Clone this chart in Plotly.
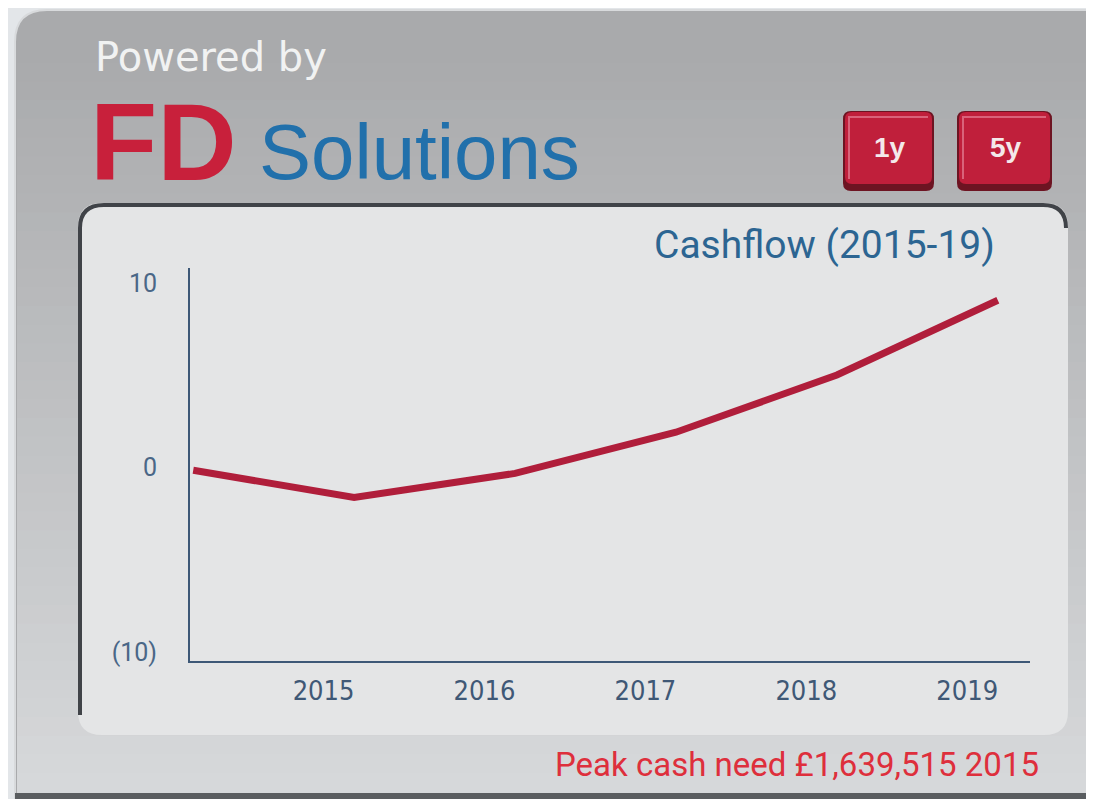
import plotly.graph_objects as go

# ---------------- data ----------------
periods = ["Start", "2015", "2016", "2017", "2018", "2019"]
cashflow_m = [-0.16, -1.64, -0.33, 1.9, 5.0, 9.05]      # £ millions
year_labels = ["2015", "2016", "2017", "2018", "2019"]
y_tick_vals = [-10, 0, 10]
y_tick_text = ["(10)", "0", "10"]
chart_title = "Cashflow (2015-19)"
footer_text = "Peak cash need £1,639,515 2015"
buttons = ["1y", "5y"]

# ---------------- geometry helpers (screen pixel -> paper) ----------------
OFF = 8                       # page body margin offset of the figure
W, H = 1094 - OFF, 799 - OFF  # figure fills the rest of the window
L, R, T, B = 190, 1030, 268, 661   # plot area in screen pixels


def fx(x):
    return (x - L) / (R - L)


def fy(y):
    return (B - y) / (B - T)


def rrect(x0, y0, x1, y1, r):
    p = [
        f"M {fx(x0 + r)},{fy(y0)}",
        f"L {fx(x1 - r)},{fy(y0)}",
        f"Q {fx(x1)},{fy(y0)} {fx(x1)},{fy(y0 + r)}",
        f"L {fx(x1)},{fy(y1 - r)}",
        f"Q {fx(x1)},{fy(y1)} {fx(x1 - r)},{fy(y1)}",
        f"L {fx(x0 + r)},{fy(y1)}",
        f"Q {fx(x0)},{fy(y1)} {fx(x0)},{fy(y1 - r)}",
        f"L {fx(x0)},{fy(y0 + r)}",
        f"Q {fx(x0)},{fy(y0)} {fx(x0 + r)},{fy(y0)}",
        "Z",
    ]
    return " ".join(p)


shapes = []


def add_path(path, fill=None, line=None, width=0, layer="below"):
    shapes.append(dict(type="path", xref="paper", yref="paper", path=path,
                       fillcolor=fill if fill else "rgba(0,0,0,0)",
                       line=dict(color=line if line else "rgba(0,0,0,0)", width=width),
                       layer=layer))


def add_rect(x0, y0, x1, y1, fill, layer="below"):
    shapes.append(dict(type="rect", xref="paper", yref="paper",
                       x0=fx(x0), x1=fx(x1), y0=fy(y1), y1=fy(y0),
                       fillcolor=fill, line=dict(width=0), layer=layer))


# outer grey panel (rounded top-left)
add_path(rrect(15, 10, 1140, 840, 32), fill="#a9aaac", line="#d8dadc", width=2)
# vertical gradient bands
c0 = (169, 170, 172)
c1 = (214, 216, 218)
N = 40
y_start, y_end = 44, 792
for i in range(N):
    t = i / (N - 1)
    c = tuple(int(round(c0[k] + (c1[k] - c0[k]) * t)) for k in range(3))
    ya = y_start + (y_end - y_start) * i / N
    yb = y_start + (y_end - y_start) * (i + 1) / N + 1
    add_rect(17, ya, 1120, yb, f"rgb{c}")
# bottom dark edge
add_rect(15, 793, 1120, 830, "#5a5d60")

# inner chart panel
add_path(rrect(78, 203, 1068, 735, 24), fill="#e4e5e6")
# dark top/left bevel of inner panel
bevel = " ".join([
    f"M {fx(80)},{fy(715)}",
    f"L {fx(80)},{fy(228)}",
    f"Q {fx(80)},{fy(205)} {fx(104)},{fy(205)}",
    f"L {fx(1043)},{fy(205)}",
    f"Q {fx(1066)},{fy(205)} {fx(1066)},{fy(228)}",
])
add_path(bevel, line="#404348", width=4)

# buttons
btn_boxes = [(843, 111, 934, 191), (957, 111, 1052, 191)]
for (bx0, by0, bx1, by1) in btn_boxes:
    add_path(rrect(bx0, by0, bx1, by1, 8), fill="#6d1422", layer="above")
    add_path(rrect(bx0 + 2, by0 + 1, bx1 - 2, by1 - 7, 7), fill="#c01f3b", layer="above")
    hl = " ".join([
        f"M {fx(bx0 + 6)},{fy(by1 - 12)}",
        f"L {fx(bx0 + 6)},{fy(by0 + 6)}",
        f"L {fx(bx1 - 6)},{fy(by0 + 6)}",
    ])
    add_path(hl, line="#d9637a", width=2, layer="above")

# ---------------- figure ----------------
x_idx = list(range(len(periods)))

fig = go.Figure()
fig.add_trace(go.Scatter(
    x=x_idx, y=cashflow_m, mode="lines",
    line=dict(color="#b01e3b", width=7),
    hoverinfo="skip", showlegend=False,
))

annotations = [
    dict(text="Powered by", x=fx(93), y=fy(57), xanchor="left", yanchor="middle",
         font=dict(family="DejaVu Sans, sans-serif", size=40, color="#f1f2f2")),
    dict(text="<b>FD</b>", x=fx(88), y=fy(142), xanchor="left", yanchor="middle",
         font=dict(family="Liberation Sans, Arial, sans-serif", size=110, color="#c8203b")),
    dict(text="Solutions", x=fx(257), y=fy(152), xanchor="left", yanchor="middle",
         font=dict(family="Liberation Sans, Arial, sans-serif", size=78, color="#2170ab")),
    dict(text=chart_title, x=fx(997), y=fy(245), xanchor="right", yanchor="middle",
         font=dict(family="Roboto, sans-serif", size=39, color="#2c6592")),
    dict(text=footer_text, x=fx(1041), y=fy(764), xanchor="right", yanchor="middle",
         font=dict(family="Roboto, sans-serif", size=33, color="#de2f3c")),
]
btn_centers = [(890, 148), (1006, 148)]
for lbl, (cx, cy) in zip(buttons, btn_centers):
    annotations.append(dict(text=f"<b>{lbl}</b>", x=fx(cx), y=fy(cy), xanchor="center",
                            yanchor="middle",
                            font=dict(family="Liberation Sans, Arial, sans-serif", size=28,
                                      color="#f4e8ea")))
for a in annotations:
    a.update(xref="paper", yref="paper", showarrow=False)

x_tick_vals = [i + 1 - 0.19 for i in range(len(year_labels))]

fig.update_layout(
    width=W, height=H, autosize=False,
    margin=dict(l=L - OFF, r=W - (R - OFF), t=T - OFF, b=H - (B - OFF), pad=0),
    paper_bgcolor="#e3e6e9",
    plot_bgcolor="rgba(0,0,0,0)",
    shapes=shapes,
    annotations=annotations,
    showlegend=False,
    hovermode=False,
    xaxis=dict(range=[-0.02, 5.2], showgrid=False, zeroline=False,
               showline=True, linecolor="#3d5877", linewidth=2,
               tickmode="array", tickvals=x_tick_vals, ticktext=year_labels,
               ticks="", ticklabelstandoff=5,
               tickfont=dict(family="Liberation Sans Narrow, DejaVu Sans Condensed, sans-serif",
                             size=27, color="#3f5876"),
               fixedrange=True),
    yaxis=dict(range=[-10.5, 10.8], showgrid=False, zeroline=False,
               showline=True, linecolor="#3d5877", linewidth=2,
               tickmode="array", tickvals=y_tick_vals, ticktext=y_tick_text,
               ticks="", ticklabelstandoff=26,
               tickfont=dict(family="Roboto, sans-serif", size=25, color="#4a6787"),
               fixedrange=True),
)

fig.write_html("out.html", config={"displayModeBar": False})
